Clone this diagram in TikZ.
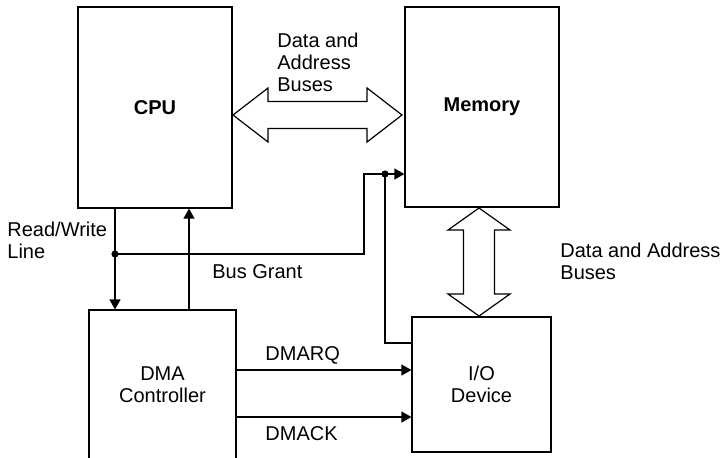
\documentclass[tikz,border=0pt]{standalone}
\usepackage{fontspec}
\setmainfont{Liberation Sans}
\usetikzlibrary{positioning,calc,arrows.meta}

\begin{document}
\begin{tikzpicture}[x=0.5pt,y=-0.5pt,
    every node/.style={font=\fontsize{10}{11}\selectfont},
    unit/.style={draw,line width=0.6pt,inner sep=0pt,align=center},
    wire/.style={line width=0.6pt},
    arr/.style={wire,-{Triangle[length=5pt,width=5.5pt]}},
    fatbus/.style={draw,line width=0.6pt,fill=white,line join=miter},
    lbl/.style={anchor=west,inner sep=0pt,align=left}]
	\useasboundingbox (0,0) rectangle (721,457);

	\node[unit,minimum width=77pt,minimum height=100.5pt,font=\fontsize{10}{11}\selectfont\bfseries] (cpu) at (155,107.5) {CPU};
	\node[unit,minimum width=77pt,minimum height=100pt,font=\fontsize{10}{11}\selectfont\bfseries] (mem) at (482,107) {Memory};
	\node[unit,minimum width=73.5pt,minimum height=75pt] (dma) at (162.5,385) {DMA\\Controller};
	\node[unit,minimum width=69.5pt,minimum height=67.5pt] (io) at (481.5,384.5) {I/O\\Device};

	\coordinate (busL) at (233,115);
	\coordinate (busR) at (402,115);
	\coordinate (busT) at (479,208);
	\coordinate (busB) at (479,316);

	\draw[fatbus] (busL) -- ++(35,-27) -- ++(0,13.5) -- ($(busR)+(-35,-13.5)$) -- ++(0,-13.5) -- (busR)
	    -- ++(-35,27) -- ++(0,-13.5) -- ($(busL)+(35,13.5)$) -- ++(0,13.5) -- cycle;
	\draw[fatbus] (busT) -- ++(31,22) -- ++(-15.5,0) -- ($(busB)+(15.5,-22)$) -- ++(15.5,0) -- (busB)
	    -- ++(-31,-22) -- ++(15.5,0) -- ($(busT)+(-15.5,22)$) -- ++(-15.5,0) -- cycle;

	\coordinate (rwdot) at (115,254);
	\coordinate (rwturn) at (364,254);
	\coordinate (rwup) at (364,174);
	\coordinate (iodot) at (385,174);
	\coordinate (iotap) at (385,343);
	\coordinate (grant) at (189,310);

	\draw[arr] (cpu.south -| rwdot) -- (dma.north -| rwdot);
	\draw[arr] (rwdot) -- (rwturn) -- (rwup) -- (rwup -| mem.west);
	\draw[wire] (iodot) -- (iotap) -- (iotap -| io.west);
	\draw[arr] (dma.north -| grant) -- (cpu.south -| grant);
	\fill (rwdot) circle (1.8pt);
	\fill (iodot) circle (1.8pt);

	\draw[arr] ([yshift=7.5pt]dma.east) -- ([yshift=7.5pt]dma.east -| io.west);
	\draw[arr] ([yshift=-16pt]dma.east) -- ([yshift=-16pt]dma.east -| io.west);

	\node[lbl] (cpumem) at (277,62) {Data and\\Address\\Buses};
	\node[lbl] (memio) at (560,261.5) {Data and Address\\Buses};
	\node[lbl] (rw) at (7,240.5) {Read/Write\\Line};
	\node[lbl] (bg) at (212,272) {Bus Grant};
	\node[lbl] (rq) at (265,355) {DMARQ};
	\node[lbl] (ack) at (265,434) {DMACK};
\end{tikzpicture}
\end{document}
